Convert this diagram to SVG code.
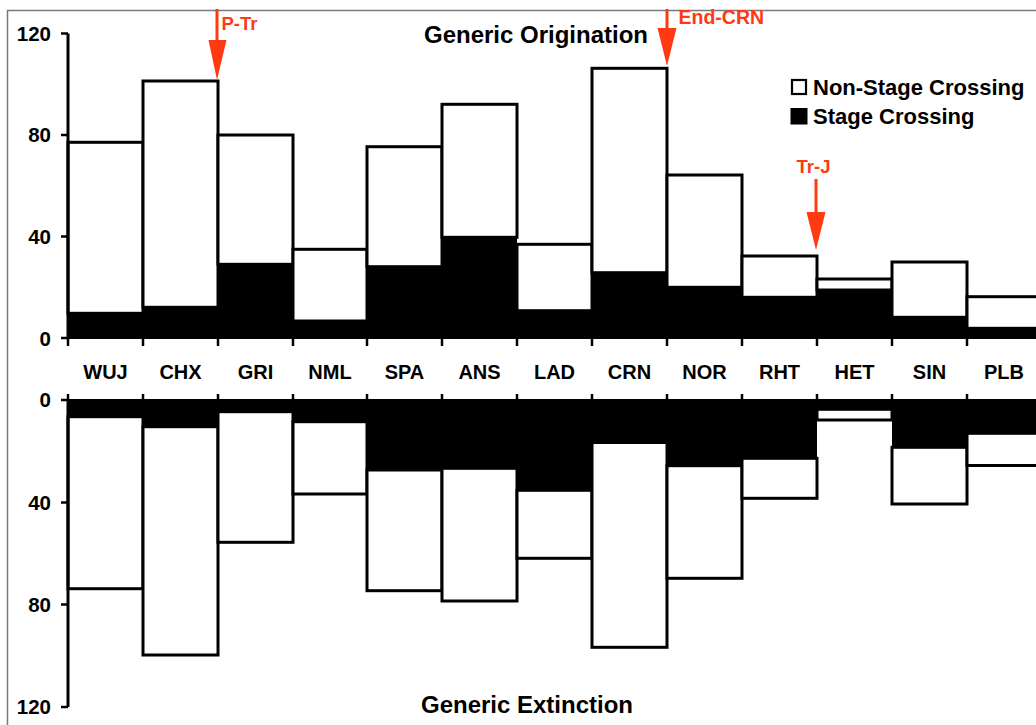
<svg xmlns="http://www.w3.org/2000/svg" width="1036" height="725" viewBox="0 0 1036 725">
<style>
text{font-family:"Liberation Sans",Arial,sans-serif;font-weight:bold;fill:#000}
.cat{font-size:20px;text-anchor:middle}
.ylab{font-size:20.5px;text-anchor:end}
.title{font-size:24px;text-anchor:middle}
.leg{font-size:22px}
.red{fill:#FF3A12;font-size:18.5px}
.blk{fill:#000;stroke:none}
.wht{fill:#fff;stroke:#000;stroke-width:3}
.ax{stroke:#000;stroke-width:3;fill:none}
.tk{stroke:#000;stroke-width:2.5;fill:none}
.frame{stroke:#7a7a7a;stroke-width:1.5;fill:none}
.arr{stroke:#FF3A12;stroke-width:3;fill:none}
.head{fill:#FF3A12;stroke:none}
</style>
<rect x="0" y="0" width="1036" height="725" fill="#fff"/>
<path class="frame" d="M7.5,725 V10.5 H1036"/>

<!-- Top panel: Generic Origination -->
<g id="top-bars">
<g id="o-WUJ"><rect class="blk" x="68" y="313.3" width="75" height="25.7"/><rect class="wht" x="68" y="142.3" width="75" height="171"/></g>
<g id="o-CHX"><rect class="blk" x="143" y="307.3" width="75" height="31.7"/><rect class="wht" x="143" y="81" width="75" height="226.3"/></g>
<g id="o-GRI"><rect class="blk" x="218" y="264.3" width="75" height="74.7"/><rect class="wht" x="218" y="135" width="75" height="129.3"/></g>
<g id="o-NML"><rect class="blk" x="293" y="321" width="74" height="18"/><rect class="wht" x="293" y="249.3" width="74" height="71.7"/></g>
<g id="o-SPA"><rect class="blk" x="367" y="266.7" width="75" height="72.3"/><rect class="wht" x="367" y="146.7" width="75" height="120"/></g>
<g id="o-ANS"><rect class="blk" x="442" y="237.3" width="75" height="101.7"/><rect class="wht" x="442" y="104.3" width="75" height="133"/></g>
<g id="o-LAD"><rect class="blk" x="517" y="310.7" width="75" height="28.3"/><rect class="wht" x="517" y="244.3" width="75" height="66.4"/></g>
<g id="o-CRN"><rect class="blk" x="592" y="272.7" width="75" height="66.3"/><rect class="wht" x="592" y="68.3" width="75" height="204.4"/></g>
<g id="o-NOR"><rect class="blk" x="667" y="287.3" width="75" height="51.7"/><rect class="wht" x="667" y="175" width="75" height="112.3"/></g>
<g id="o-RHT"><rect class="blk" x="742" y="297.3" width="75" height="41.7"/><rect class="wht" x="742" y="256" width="75" height="41.3"/></g>
<g id="o-HET"><rect class="blk" x="817" y="290" width="75" height="49"/><rect class="wht" x="817" y="279" width="75" height="11"/></g>
<g id="o-SIN"><rect class="blk" x="892" y="317.3" width="75" height="21.7"/><rect class="wht" x="892" y="262" width="75" height="55.3"/></g>
<g id="o-PLB"><rect class="blk" x="967" y="328.3" width="80" height="10.7"/><rect class="wht" x="967" y="296.7" width="80" height="31.6"/></g>
</g>

<!-- Bottom panel: Generic Extinction -->
<g id="bottom-bars">
<g id="e-WUJ"><rect class="blk" x="68" y="399" width="75" height="17.7"/><rect class="wht" x="68" y="416.7" width="75" height="172"/></g>
<g id="e-CHX"><rect class="blk" x="143" y="399" width="75" height="27.7"/><rect class="wht" x="143" y="426.7" width="75" height="228.3"/></g>
<g id="e-GRI"><rect class="blk" x="218" y="399" width="75" height="12.7"/><rect class="wht" x="218" y="411.7" width="75" height="130.6"/></g>
<g id="e-NML"><rect class="blk" x="293" y="399" width="74" height="22.7"/><rect class="wht" x="293" y="421.7" width="74" height="72.3"/></g>
<g id="e-SPA"><rect class="blk" x="367" y="399" width="75" height="71"/><rect class="wht" x="367" y="470" width="75" height="120.7"/></g>
<g id="e-ANS"><rect class="blk" x="442" y="399" width="75" height="69.3"/><rect class="wht" x="442" y="468.3" width="75" height="132.7"/></g>
<g id="e-LAD"><rect class="blk" x="517" y="399" width="75" height="91.3"/><rect class="wht" x="517" y="490.3" width="75" height="68"/></g>
<g id="e-CRN"><rect class="blk" x="592" y="399" width="75" height="43.5"/><rect class="wht" x="592" y="442.5" width="75" height="204.8"/></g>
<g id="e-NOR"><rect class="blk" x="667" y="399" width="75" height="66.7"/><rect class="wht" x="667" y="465.7" width="75" height="112.6"/></g>
<g id="e-RHT"><rect class="blk" x="742" y="399" width="75" height="59.3"/><rect class="wht" x="742" y="458.3" width="75" height="40"/></g>
<g id="e-HET"><rect class="blk" x="817" y="399" width="75" height="10.3"/><rect class="wht" x="817" y="409.3" width="75" height="10.7"/></g>
<g id="e-SIN"><rect class="blk" x="892" y="399" width="75" height="48.3"/><rect class="wht" x="892" y="447.3" width="75" height="56.7"/></g>
<g id="e-PLB"><rect class="blk" x="967" y="399" width="80" height="34.3"/><rect class="wht" x="967" y="433.3" width="80" height="32.2"/></g>
</g>

<!-- Axes -->
<g id="axes">
<path class="ax" d="M68,33.5 V339"/>
<path class="tk" d="M61,33.5 H68 M61,135 H68 M61,236.5 H68 M61,338 H68"/>
<path class="tk" d="M68,338 V346 M143,338 V346 M218,338 V346 M293,338 V346 M367,338 V346 M442,338 V346 M517,338 V346 M592,338 V346 M667,338 V346 M742,338 V346 M817,338 V346 M892,338 V346 M967,338 V346"/>
<path class="ax" d="M68,399 V707"/>
<path class="tk" d="M61,400 H68 M61,502.5 H68 M61,604.5 H68 M61,707 H68"/>
<path class="tk" d="M68,394 V400 M143,394 V400 M218,394 V400 M293,394 V400 M367,394 V400 M442,394 V400 M517,394 V400 M592,394 V400 M667,394 V400 M742,394 V400 M817,394 V400 M892,394 V400 M967,394 V400"/>
<text class="ylab" x="51" y="40.5">120</text>
<text class="ylab" x="51" y="142">80</text>
<text class="ylab" x="51" y="243.5">40</text>
<text class="ylab" x="51" y="345.5">0</text>
<text class="ylab" x="51" y="407">0</text>
<text class="ylab" x="51" y="509.5">40</text>
<text class="ylab" x="51" y="611.5">80</text>
<text class="ylab" x="51" y="714">120</text>
</g>

<g id="categories">
<text class="cat" x="105.5" y="379">WUJ</text>
<text class="cat" x="180.5" y="379">CHX</text>
<text class="cat" x="255.5" y="379">GRI</text>
<text class="cat" x="330" y="379">NML</text>
<text class="cat" x="404.5" y="379">SPA</text>
<text class="cat" x="479.5" y="379">ANS</text>
<text class="cat" x="554.5" y="379">LAD</text>
<text class="cat" x="629.5" y="379">CRN</text>
<text class="cat" x="704.5" y="379">NOR</text>
<text class="cat" x="779.5" y="379">RHT</text>
<text class="cat" x="854.5" y="379">HET</text>
<text class="cat" x="929.5" y="379">SIN</text>
<text class="cat" x="1004" y="379">PLB</text>
</g>

<g id="titles">
<text class="title" x="536" y="43">Generic Origination</text>
<text class="title" x="527" y="713">Generic Extinction</text>
</g>

<g id="legend">
<rect x="792" y="80" width="14" height="14" fill="#fff" stroke="#000" stroke-width="2.2"/>
<text class="leg" x="813" y="94.5">Non-Stage Crossing</text>
<rect x="790.5" y="108" width="17" height="16.5" fill="#000"/>
<text class="leg" x="813" y="124">Stage Crossing</text>
</g>

<g id="connectors">
<g id="arrow-PTr"><path class="arr" d="M217,9 V42"/><polygon class="head" points="208.5,40 226.5,40 217,80"/><text class="red" x="221.5" y="30">P-Tr</text></g>
<g id="arrow-EndCRN"><path class="arr" d="M667,9 V30"/><polygon class="head" points="657.5,28 676.5,28 667,66"/><text class="red" x="678.5" y="24" style="font-size:19.5px">End-CRN</text></g>
<g id="arrow-TrJ"><path class="arr" d="M816,179 V214"/><polygon class="head" points="806.5,212 825.5,212 816,250"/><text class="red" x="813.5" y="172.5" text-anchor="middle">Tr-J</text></g>
</g>
</svg>
